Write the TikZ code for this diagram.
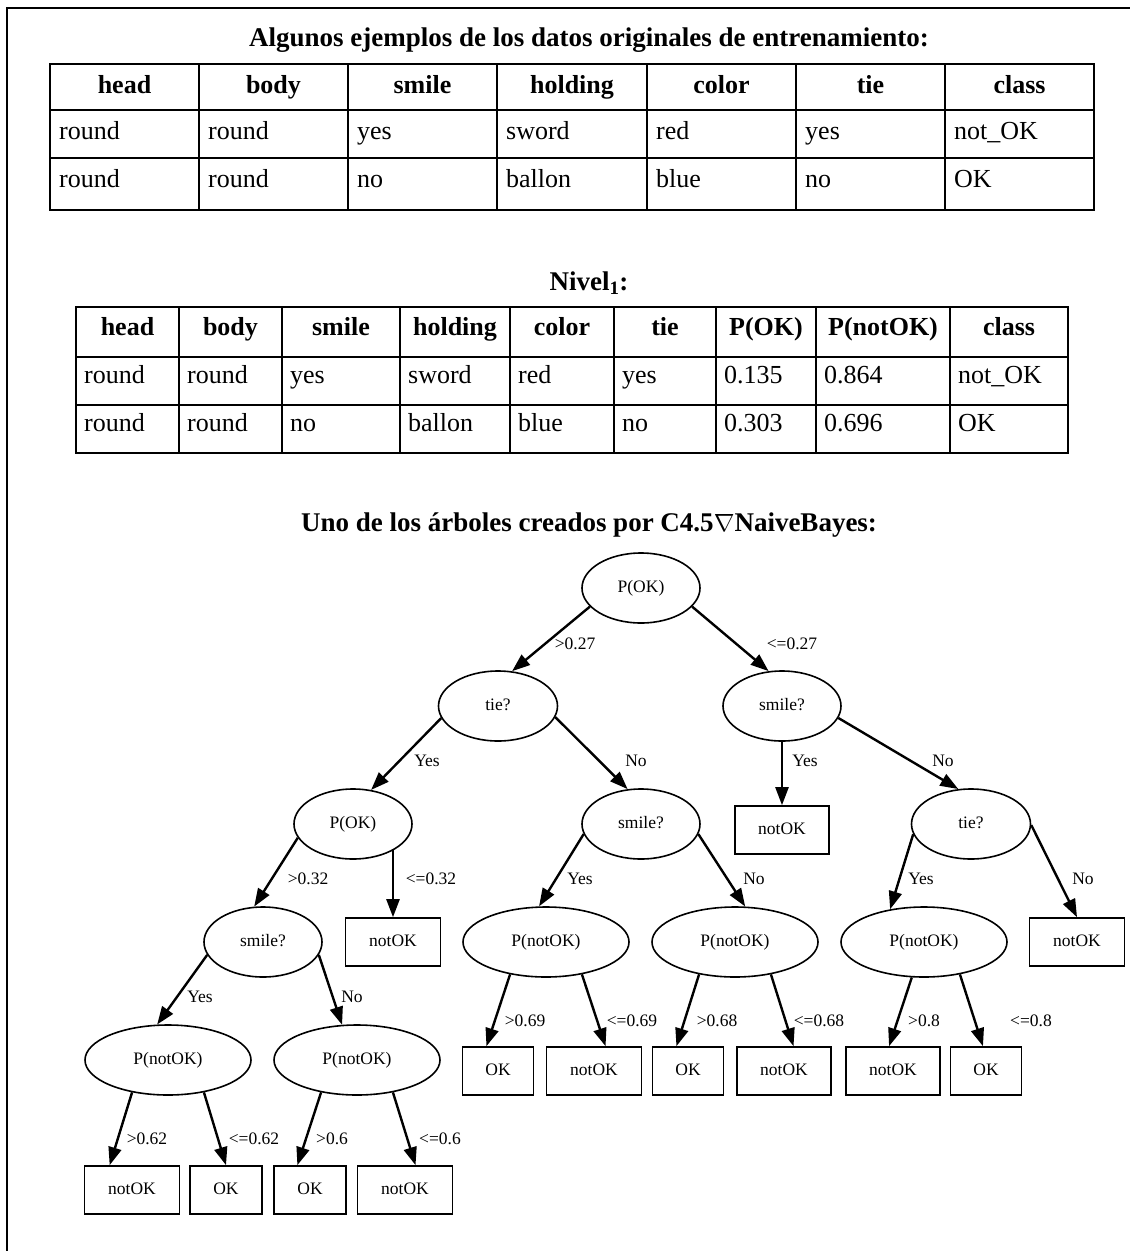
\documentclass[tikz,border=0pt]{standalone}
\usepackage{fontspec}
\setmainfont{Liberation Serif}
\usetikzlibrary{arrows.meta,shapes.geometric,calc}
\begin{document}
\begin{tikzpicture}[x=1pt,y=-1pt,
  tree/.style={font=\fontsize{17.5}{20}\selectfont,text height=12.5pt,text depth=3.5pt},
  ell/.style={ellipse,draw,line width=1.6pt,inner sep=0pt,minimum height=70pt,tree},
  lf/.style={rectangle,draw,line width=1.6pt,inner sep=0pt,minimum height=48pt,tree},
  arr/.style={line width=2.4pt,-{Triangle[length=18pt,width=13pt]}},
  lbl/.style={tree,inner sep=0pt},
  th/.style={font=\fontsize{26}{30}\selectfont\bfseries,inner sep=0pt,text height=18pt,text depth=6pt},
  td/.style={font=\fontsize{26}{30}\selectfont,inner sep=0pt,anchor=west,text height=18pt,text depth=6pt},
  tit/.style={font=\fontsize{27}{32}\selectfont\bfseries,inner sep=0pt},
  outer/.style={line width=2.2pt},
  inner/.style={line width=1.3pt},
]
\useasboundingbox (0,0) rectangle (1130,1251);
% frame
\draw[line width=2pt] (7,1251) -- (7,8) -- (1130,8);

% ---------- Table 1 ----------
\node[tit] (title1) at (589,40) {Algunos ejemplos de los datos originales de entrenamiento:};
\foreach \y in {110,158} \draw[inner] (50,\y) -- (1094,\y);
\foreach \x in {199,348,497,647,796,945} \draw[inner] (\x,64) -- (\x,210);
\draw[outer] (50,64) rectangle (1094,210);
\foreach \t/\xl/\xr [count=\i] in {head/50/199,body/199/348,smile/348/497,holding/497/647,color/647/796,tie/796/945,class/945/1094}
  \node[th] (ah\i) at ({(\xl+\xr)/2},87) {\t};
\foreach \t/\xl [count=\i] in {round/50,round/199,yes/348,sword/497,red/647,yes/796,not\_OK/945}
  \node[td] (aa\i) at (\xl+9,133) {\t};
\foreach \t/\xl [count=\i] in {round/50,round/199,no/348,ballon/497,blue/647,no/796,OK/945}
  \node[td] (ab\i) at (\xl+9,181) {\t};

% ---------- Table 2 ----------
\node[tit] (title2) at (589,283) {Nivel\textsubscript{1}:};
\foreach \y in {357,405} \draw[inner] (76,\y) -- (1068,\y);
\foreach \x in {179,282,400,510,614,716,816,950} \draw[inner] (\x,307) -- (\x,453);
\draw[outer] (76,307) rectangle (1068,453);
\foreach \t/\xl/\xr [count=\i] in {head/76/179,body/179/282,smile/282/400,holding/400/510,color/510/614,tie/614/716,P(OK)/716/816,P(notOK)/816/950,class/950/1068}
  \node[th] (bh\i) at ({(\xl+\xr)/2},329) {\t};
\foreach \t/\xl [count=\i] in {round/76,round/179,yes/282,sword/400,red/510,yes/614,0.135/716,0.864/816,not\_OK/950}
  \node[td] (ba\i) at (\xl+8,377) {\t};
\foreach \t/\xl [count=\i] in {round/76,round/179,no/282,ballon/400,blue/510,no/614,0.303/716,0.696/816,OK/950}
  \node[td] (bb\i) at (\xl+8,425) {\t};

% ---------- Tree ----------
\node[tit] (title3) at (589,525) {Uno de los árboles creados por C4.5$\nabla$NaiveBayes:};

\node[ell,minimum width=118pt] (r) at (641,588) {P(OK)};
\node[ell,minimum width=119pt] (t1) at (498,706) {tie?};
\node[ell,minimum width=118pt] (s1) at (782,706) {smile?};
\node[ell,minimum width=118pt] (p1) at (353,824) {P(OK)};
\node[ell,minimum width=118pt] (s2) at (641,824) {smile?};
\node[lf,minimum width=94pt] (b1) at (782,830) {notOK};
\node[ell,minimum width=119pt] (t2) at (971,824) {tie?};
\node[ell,minimum width=118pt] (s3) at (263,942) {smile?};
\node[lf,minimum width=95pt] (b2) at (393,942) {notOK};
\node[ell,minimum width=166pt] (n1) at (546,942) {P(notOK)};
\node[ell,minimum width=166pt] (n2) at (735,942) {P(notOK)};
\node[ell,minimum width=166pt] (n3) at (924,942) {P(notOK)};
\node[lf,minimum width=95pt] (b3) at (1077,942) {notOK};
\node[ell,minimum width=166pt] (n4) at (168,1060) {P(notOK)};
\node[ell,minimum width=166pt] (n5) at (357,1060) {P(notOK)};
\node[lf,minimum width=71pt] (b4) at (498,1071) {OK};
\node[lf,minimum width=95pt] (b5) at (594,1071) {notOK};
\node[lf,minimum width=71pt] (b6) at (688,1071) {OK};
\node[lf,minimum width=94pt] (b7) at (784,1071) {notOK};
\node[lf,minimum width=94pt] (b8) at (893,1071) {notOK};
\node[lf,minimum width=71pt] (b9) at (986,1071) {OK};
\node[lf,minimum width=95pt] (b10) at (132,1190) {notOK};
\node[lf,minimum width=72pt] (b11) at (226,1190) {OK};
\node[lf,minimum width=72pt] (b12) at (310,1190) {OK};
\node[lf,minimum width=95pt] (b13) at (405,1190) {notOK};

\draw[arr] (r.200) -- (t1.68);
\draw[arr] (r.340) -- (s1.111);
\draw[arr] (t1.192) -- (p1.62);
\draw[arr] (t1.349) -- (s2.111);
\draw[arr] (s1) -- (b1);
\draw[arr] (s1.348) -- (t2.110);
\draw[arr] (p1.194) -- (s3.104);
\draw[arr] (b2.north |- p1.327) -- (b2.north);
\draw[arr] (s2.190) -- (n1.101);
\draw[arr] (s2.350) -- (n2.74);
\draw[arr] (t2.190) -- (n3.136);
\draw[arr] (t2.359) -- (b3.north);
\draw[arr] (s3.193) -- (n4.107);
\draw[arr] (s3.347) -- (n5.113);
\draw[arr] (n4.222) -- (b10.132);
\draw[arr] (n4.318) -- (b11.north);
\draw[arr] (n5.222) -- (b12.117);
\draw[arr] (n5.318) -- (b13.67);
\draw[arr] (n1.222) -- (b4.115);
\draw[arr] (n1.318) -- (b5.65);
\draw[arr] (n2.222) -- (b6.115);
\draw[arr] (n2.318) -- (b7.69);
\draw[arr] (n3.251) -- (b8.99);
\draw[arr] (n3.318) -- (b9.97);

% edge labels
\node[lbl] (l1) at (575,645) {>0.27};
\node[lbl] (l2) at (792,645) {<=0.27};
\node[lbl] (l3) at (427,762) {Yes};
\node[lbl] (l4) at (636,762) {No};
\node[lbl] (l5) at (805,762) {Yes};
\node[lbl] (l6) at (943,762) {No};
\node[lbl] (l7) at (308,880) {>0.32};
\node[lbl] (l8) at (431,880) {<=0.32};
\node[lbl] (l9) at (580,880) {Yes};
\node[lbl] (l10) at (754,880) {No};
\node[lbl] (l11) at (921,880) {Yes};
\node[lbl] (l12) at (1083,880) {No};
\node[lbl] (l13) at (200,998) {Yes};
\node[lbl] (l14) at (352,998) {No};
\node[lbl] (l15) at (525,1022) {>0.69};
\node[lbl] (l16) at (632,1022) {<=0.69};
\node[lbl] (l17) at (717,1022) {>0.68};
\node[lbl] (l18) at (819,1022) {<=0.68};
\node[lbl] (l19) at (924,1022) {>0.8};
\node[lbl] (l20) at (1031,1022) {<=0.8};
\node[lbl] (l21) at (147,1140) {>0.62};
\node[lbl] (l22) at (254,1140) {<=0.62};
\node[lbl] (l23) at (332,1140) {>0.6};
\node[lbl] (l24) at (440,1140) {<=0.6};
\end{tikzpicture}
\end{document}
